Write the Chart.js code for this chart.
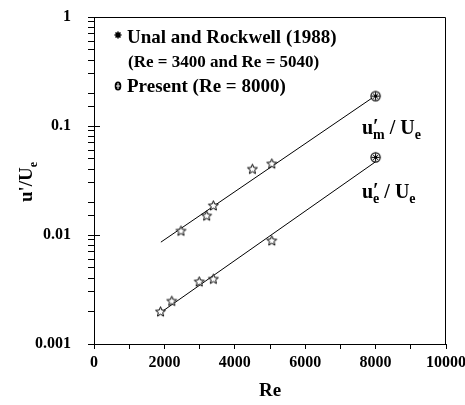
<!DOCTYPE html>
<html>
<head>
<meta charset="utf-8">
<script src="https://cdn.jsdelivr.net/npm/chart.js@4.4.1/dist/chart.umd.min.js"></script>
<style>
  html, body { margin: 0; padding: 0; background: #fff; }
  #wrap { width: 465px; height: 405px; }
</style>
</head>
<body>
<div id="wrap"><canvas id="chart" width="465" height="405"></canvas></div>
<script>
// Unal & Rockwell (1988) points
const reMax = [2470, 3200, 3390, 4500, 5050];
const umMax = [0.0109, 0.0150, 0.0186, 0.0403, 0.0451];
const reEdge = [1890, 2210, 2990, 3390, 5050];
const ueEdge = [0.00198, 0.00248, 0.00373, 0.00395, 0.00887];

// present run
const rePresent = [8000];
const umPresent = [0.188];
const uePresent = [0.0516];

// fitted lines (end points)
const reFitMax = [1900, 8000];
const umFit = [0.0086, 0.19];
const reFitEdge = [1850, 8000];
const ueFit = [0.0019, 0.047];

const yTickText = { "0": "1", "-1": "0.1", "-2": "0.01", "-3": "0.001" };
const SERIF = '"Liberation Serif", "Times New Roman", serif';

function pts(xs, ys) {
  return xs.map((x, i) => ({ x: x, y: ys[i] }));
}

// hollow five point star marker
function makeStar() {
  const c = document.createElement("canvas");
  c.width = 13; c.height = 13;
  const g = c.getContext("2d");
  g.beginPath();
  for (let i = 0; i < 10; i++) {
    const r = i % 2 === 0 ? 5.2 : 2.3;
    const a = -Math.PI / 2 + i * Math.PI / 5;
    const px = 6.5 + r * Math.cos(a), py = 6.8 + r * Math.sin(a);
    if (i === 0) g.moveTo(px, py); else g.lineTo(px, py);
  }
  g.closePath();
  g.fillStyle = "#fff";
  g.fill();
  g.strokeStyle = "#000";
  g.lineWidth = 1;
  g.stroke();
  return c;
}

// circle with a cross inside
function makeCircle() {
  const c = document.createElement("canvas");
  c.width = 13; c.height = 13;
  const g = c.getContext("2d");
  g.fillStyle = "#fff";
  g.strokeStyle = "#000";
  g.lineWidth = 1.2;
  g.beginPath();
  g.arc(6.5, 6.5, 4.6, 0, Math.PI * 2);
  g.fill();
  g.stroke();
  g.lineWidth = 1;
  g.beginPath();
  g.moveTo(6.5, 2.5); g.lineTo(6.5, 10.5);
  g.moveTo(2.5, 6.5); g.lineTo(10.5, 6.5);
  g.moveTo(3.8, 3.8); g.lineTo(9.2, 9.2);
  g.moveTo(9.2, 3.8); g.lineTo(3.8, 9.2);
  g.stroke();
  return c;
}

const starImg = makeStar();
const circleImg = makeCircle();

// draws pieces of text left to right; sub pieces drop below the baseline
function drawParts(ctx, x, y, parts) {
  let cx = x;
  parts.forEach(p => {
    ctx.font = "bold " + p.size + "px " + SERIF;
    ctx.fillText(p.t, cx, y + (p.dy || 0));
    if (!p.noAdvance) cx += ctx.measureText(p.t).width + (p.gap || 0);
  });
}

const decorPlugin = {
  id: "decor",
  afterDraw(chart) {
    const ctx = chart.ctx;
    const a = chart.chartArea;
    const ys = chart.scales.y;
    ctx.save();
    ctx.strokeStyle = "#000";
    ctx.fillStyle = "#000";
    ctx.lineWidth = 1;

    // top and right frame
    ctx.beginPath();
    ctx.moveTo(a.left, a.top + 0.5);
    ctx.lineTo(a.right - 0.5, a.top + 0.5);
    ctx.lineTo(a.right - 0.5, a.bottom);
    ctx.stroke();

    // major y ticks poke into the plot
    ctx.beginPath();
    ys.ticks.forEach(t => {
      const lg = Math.log10(t.value);
      if (Math.abs(lg - Math.round(lg)) < 1e-9) {
        const py = Math.round(ys.getPixelForValue(t.value)) + 0.5;
        ctx.moveTo(a.left, py);
        ctx.lineTo(a.left + 6, py);
      }
    });
    ctx.stroke();

    // legend
    ctx.textBaseline = "alphabetic";
    ctx.textAlign = "left";
    ctx.beginPath();
    for (let i = 0; i < 4; i++) {
      const ang = i * Math.PI / 4;
      ctx.moveTo(118 - 3.5 * Math.cos(ang), 35 - 3.5 * Math.sin(ang));
      ctx.lineTo(118 + 3.5 * Math.cos(ang), 35 + 3.5 * Math.sin(ang));
    }
    ctx.lineWidth = 1.6;
    ctx.stroke();
    ctx.lineWidth = 1;
    ctx.font = "bold 19px " + SERIF;
    ctx.fillText("Unal and Rockwell (1988)", 127, 43);
    ctx.font = "bold 17px " + SERIF;
    ctx.fillText("(Re = 3400 and Re = 5040)", 128, 67);
    ctx.beginPath();
    ctx.ellipse(118, 86, 3.3, 4.5, 0, 0, Math.PI * 2);
    ctx.fill();
    ctx.strokeStyle = "#fff";
    ctx.beginPath();
    ctx.moveTo(118, 83); ctx.lineTo(118, 89);
    ctx.moveTo(116, 86); ctx.lineTo(120, 86);
    ctx.stroke();
    ctx.strokeStyle = "#000";
    ctx.font = "bold 19px " + SERIF;
    ctx.fillText("Present (Re = 8000)", 127, 92);

    // series labels
    drawParts(ctx, 362, 134, [
      { t: "u", size: 20 },
      { t: "\u2032", size: 20, dy: -1, noAdvance: true },
      { t: "m", size: 14, dy: 5, gap: 5 },
      { t: "/ U", size: 20 },
      { t: "e", size: 14, dy: 5 }
    ]);
    drawParts(ctx, 362, 198, [
      { t: "u", size: 20 },
      { t: "\u2032", size: 20, dy: -1, noAdvance: true },
      { t: "e", size: 14, dy: 5, gap: 5 },
      { t: "/ U", size: 20 },
      { t: "e", size: 14, dy: 5 }
    ]);

    // axis titles
    ctx.textAlign = "center";
    ctx.font = "bold 19px " + SERIF;
    ctx.fillText("Re", (a.left + a.right) / 2, 396);

    ctx.translate(32, 182);
    ctx.rotate(-Math.PI / 2);
    ctx.textAlign = "left";
    ctx.font = "bold 19px " + SERIF;
    const w1 = ctx.measureText("u'/U").width;
    ctx.font = "bold 12px " + SERIF;
    const w2 = ctx.measureText("e").width;
    const x0 = -(w1 + w2) / 2;
    drawParts(ctx, x0, 0, [
      { t: "u'/U", size: 19 },
      { t: "e", size: 12, dy: 5 }
    ]);
    ctx.restore();
  }
};

new Chart(document.getElementById("chart"), {
  type: "scatter",
  data: {
    datasets: [
      {
        label: "fit um",
        data: pts(reFitMax, umFit),
        showLine: true,
        borderColor: "#000",
        borderWidth: 1,
        pointRadius: 0,
        order: 3
      },
      {
        label: "fit ue",
        data: pts(reFitEdge, ueFit),
        showLine: true,
        borderColor: "#000",
        borderWidth: 1,
        pointRadius: 0,
        order: 3
      },
      {
        label: "Unal and Rockwell um",
        data: pts(reMax, umMax),
        pointStyle: starImg,
        order: 1
      },
      {
        label: "Unal and Rockwell ue",
        data: pts(reEdge, ueEdge),
        pointStyle: starImg,
        order: 1
      },
      {
        label: "Present um",
        data: pts(rePresent, umPresent),
        pointStyle: circleImg,
        order: 1
      },
      {
        label: "Present ue",
        data: pts(rePresent, uePresent),
        pointStyle: circleImg,
        order: 1
      }
    ]
  },
  options: {
    responsive: false,
    animation: false,
    layout: { padding: { top: 17, right: 19, left: 0, bottom: 0 } },
    plugins: {
      legend: { display: false },
      tooltip: { enabled: false }
    },
    scales: {
      x: {
        type: "linear",
        min: 0,
        max: 10000,
        afterFit(scale) {
          scale.height = 61;
          scale.paddingLeft = 0;
          scale.paddingRight = 0;
        },
        border: { display: true, color: "#000", width: 1 },
        grid: { drawOnChartArea: false, drawTicks: true, tickLength: 5, color: "#000" },
        ticks: {
          stepSize: 1000,
          autoSkip: false,
          maxRotation: 0,
          padding: 4,
          color: "#000",
          font: { family: SERIF, size: 16, weight: "bold" },
          callback: v => (v % 2000 === 0 ? String(v) : "")
        }
      },
      y: {
        type: "logarithmic",
        min: 0.001,
        max: 1,
        afterFit(scale) {
          scale.width = 94;
          scale.paddingTop = 0;
          scale.paddingBottom = 0;
        },
        border: { display: true, color: "#000", width: 1 },
        grid: { drawOnChartArea: false, drawTicks: true, tickLength: 6, color: "#000" },
        ticks: {
          autoSkip: false,
          padding: 17,
          color: "#000",
          font: { family: SERIF, size: 16, weight: "bold" },
          callback: v => {
            const lg = Math.log10(v);
            const r = Math.round(lg);
            return Math.abs(lg - r) < 1e-9 ? (yTickText[String(r)] || "") : "";
          }
        }
      }
    }
  },
  plugins: [decorPlugin]
});
</script>
</body>
</html>
